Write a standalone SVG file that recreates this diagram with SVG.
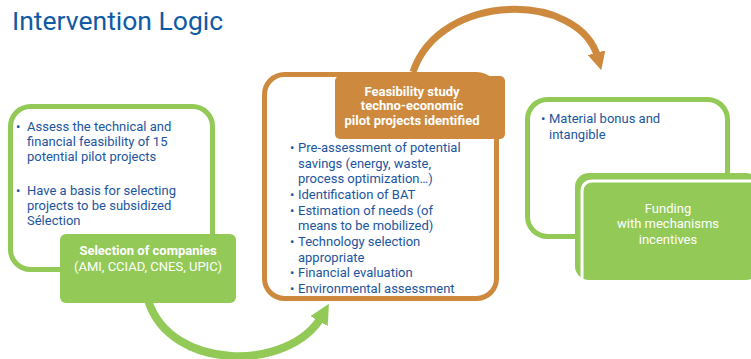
<svg xmlns="http://www.w3.org/2000/svg" width="751" height="359" viewBox="0 0 751 359">
<defs>
<style>
text{font-family:Roboto,"Liberation Sans",sans-serif}
.title{font-size:26.5px;fill:#0f5aa6}
.b{font-size:13px;fill:#1b55a0}
.w{font-size:13px;fill:#ffffff}
.wb{font-size:13px;fill:#ffffff;font-weight:bold}
.gs{fill:#ffffff;stroke:#92c957;stroke-width:5}
.os{fill:#ffffff;stroke:#cd8a3e;stroke-width:5}
.gf{fill:#92c957}
.of{fill:#cd8a3e}
</style>
<marker id="hg" viewBox="0 0 10 10" refX="3" refY="5" markerWidth="20" markerHeight="20" markerUnits="userSpaceOnUse" orient="auto"><path d="M0,0 L10,5 L0,10 z" fill="#92c957"/></marker>
<marker id="ho" viewBox="0 0 10 10" refX="3" refY="5" markerWidth="18" markerHeight="18" markerUnits="userSpaceOnUse" orient="auto"><path d="M0,0 L10,5 L0,10 z" fill="#cd8a3e"/></marker>
</defs>
<text class="title" x="12" y="30">Intervention Logic</text>

<g id="connectors" fill="none">
<path d="M148,300 C170,372 290,372 322,316" stroke="#92c957" stroke-width="8" marker-end="url(#hg)"/>
<path d="M413,72 C440,-9 580,-9 598,58" stroke="#cd8a3e" stroke-width="7" marker-end="url(#ho)"/>
</g>

<g id="objectives">
<rect class="gs" x="10.5" y="106.5" width="202" height="163" rx="20"/>
<text class="b" x="16" y="131">•</text>
<text class="b" x="27" y="131">Assess the technical and</text>
<text class="b" x="27" y="146">financial feasibility of 15</text>
<text class="b" x="27" y="161">potential pilot projects</text>
<text class="b" x="16" y="195">•</text>
<text class="b" x="27" y="195">Have a basis for selecting</text>
<text class="b" x="27" y="210">projects to be subsidized</text>
<text class="b" x="27" y="225">Sélection</text>
</g>

<g id="selection">
<rect class="gf" x="60" y="234" width="176" height="69" rx="6"/>
<text class="wb" x="148" y="255" text-anchor="middle">Selection of companies</text>
<text class="w" x="148" y="271" text-anchor="middle">(AMI, CCIAD, CNES, UPIC)</text>
</g>

<g id="study">
<rect class="os" x="264.5" y="74.5" width="232" height="224" rx="20"/>
<text class="b" x="290" y="152">•</text>
<text class="b" x="298" y="152">Pre-assessment of potential</text>
<text class="b" x="298" y="168">savings (energy, waste,</text>
<text class="b" x="298" y="183">process optimization…)</text>
<text class="b" x="290" y="199">•</text>
<text class="b" x="298" y="199">Identification of BAT</text>
<text class="b" x="290" y="215">•</text>
<text class="b" x="298" y="215">Estimation of needs (of</text>
<text class="b" x="298" y="230">means to be mobilized)</text>
<text class="b" x="290" y="246">•</text>
<text class="b" x="298" y="246">Technology selection</text>
<text class="b" x="298" y="262">appropriate</text>
<text class="b" x="290" y="277">•</text>
<text class="b" x="298" y="277">Financial evaluation</text>
<text class="b" x="290" y="293">•</text>
<text class="b" x="298" y="293">Environmental assessment</text>
</g>

<g id="feasibility">
<rect class="of" x="335" y="76" width="170" height="63" rx="5"/>
<text class="wb" x="412" y="96" text-anchor="middle">Feasibility study</text>
<text class="wb" x="412" y="110" text-anchor="middle">techno-economic</text>
<text class="wb" x="412" y="125" text-anchor="middle">pilot projects identified</text>
</g>

<g id="incentives">
<rect class="gs" x="527.5" y="99.5" width="200" height="137" rx="20"/>
<text class="b" x="541" y="123">•</text>
<text class="b" x="549" y="123">Material bonus and</text>
<text class="b" x="549" y="139">intangible</text>
</g>

<g id="funding">
<rect class="gf" x="575" y="173" width="185" height="107" rx="14"/>
<path d="M582,281 V192 Q582,181 593,181 H752" fill="none" stroke="#ffffff" stroke-width="3"/>
<text class="w" x="668" y="213" text-anchor="middle">Funding</text>
<text class="w" x="668" y="228" text-anchor="middle">with mechanisms</text>
<text class="w" x="668" y="244" text-anchor="middle">incentives</text>
</g>
</svg>
